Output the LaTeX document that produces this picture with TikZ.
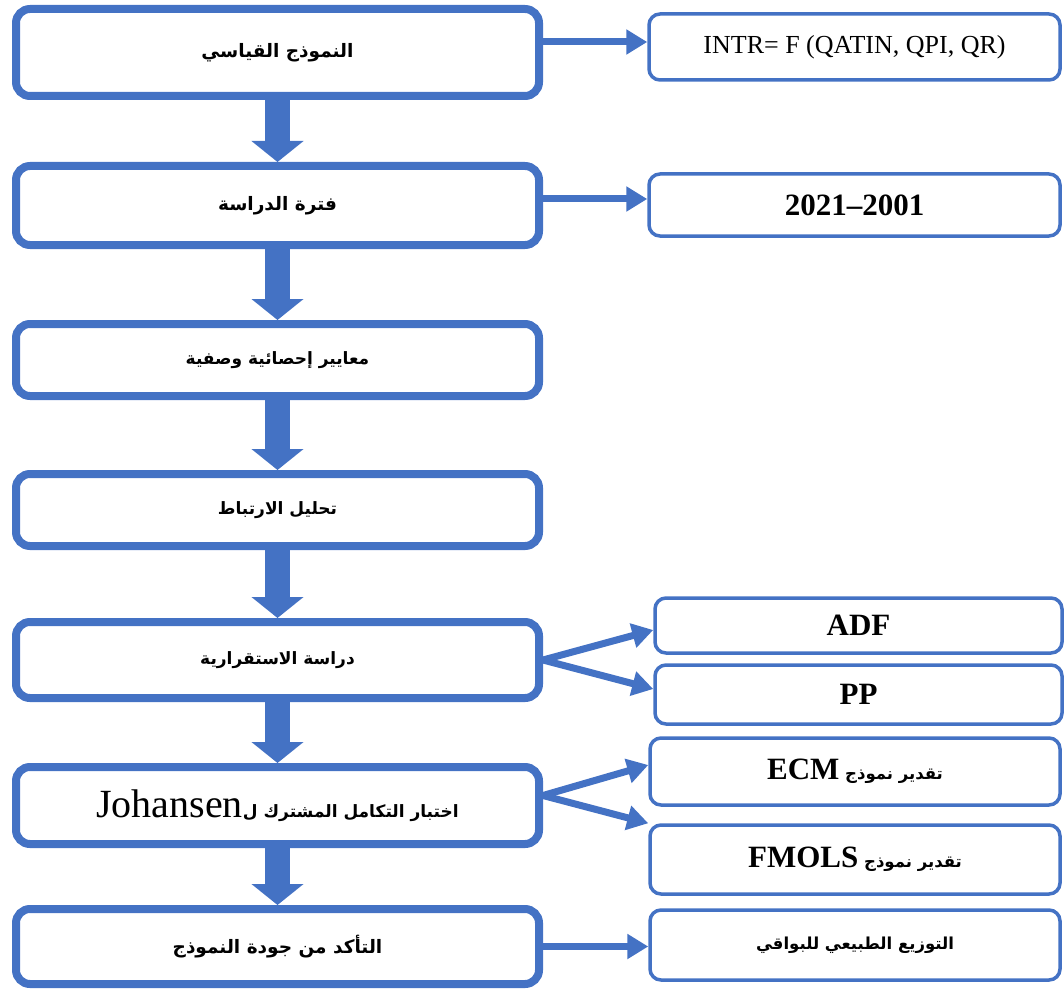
\documentclass[tikz,border=0pt]{standalone}
\usepackage{fontspec}
\setmainfont{Liberation Serif}
\newfontfamily\arabicfont[Script=Arabic]{DejaVu Sans}
\TeXXeTstate=1
\usetikzlibrary{arrows.meta}
\definecolor{boxblue}{HTML}{4472C4}

\begin{document}
\begin{tikzpicture}[x=1pt, y=-1pt,
  mainbox/.style={draw=boxblue, line width=8pt, rounded corners=14pt, minimum width=523pt, inner sep=0pt, align=center},
  sidebox/.style={draw=boxblue, line width=3.5pt, rounded corners=11pt, inner sep=0pt, align=center},
  down/.style={draw=boxblue, line width=25pt, -{Triangle[width=51pt,length=21pt]}},
  side/.style={draw=boxblue, line width=7pt, -{Triangle[width=24pt,length=21pt]}},
  arbig/.style={font=\arabicfont\bfseries\fontsize{18.5}{22}\selectfont},
  ar/.style={font=\arabicfont\bfseries\fontsize{17}{21}\selectfont},
  arside/.style={font=\arabicfont\bfseries\fontsize{16.5}{20}\selectfont},
  lat/.style={font=\fontsize{26}{30}\selectfont},
  latbold/.style={font=\bfseries\fontsize{31}{35}\selectfont}]
\useasboundingbox (0,0) rectangle (1064,992);
\node[mainbox, arbig, minimum height=87pt] (model) at (277.5,52.5) {\beginR النموذج القياسي\endR};
\node[mainbox, arbig, minimum height=79pt] (period) at (277.5,205.5) {\beginR فترة الدراسة\endR};
\node[mainbox, ar, minimum height=72pt] (desc) at (277.5,360) {\beginR معايير إحصائية وصفية\endR};
\node[mainbox, ar, minimum height=72pt] (corr) at (277.5,510) {\beginR تحليل الارتباط\endR};
\node[mainbox, ar, minimum height=76pt] (stat) at (277.5,660) {\beginR دراسة الاستقرارية\endR};
\node[mainbox, ar, minimum height=77pt] (coint) at (277.5,805.5) {\beginR اختبار التكامل المشترك ل\beginL{\rmfamily\mdseries\fontsize{40}{44}\selectfont Johansen}\endL\endR};
\node[mainbox, arbig, minimum height=75pt] (check) at (277.5,946.5) {\beginR التأكد من جودة النموذج\endR};
\node[sidebox, lat, minimum width=411pt, minimum height=66pt] (eq) at (854.5,47) {INTR= F (QATIN, QPI, QR)};
\node[sidebox, latbold, minimum width=411pt, minimum height=62pt] (years) at (854.5,205) {2021--2001};
\node[sidebox, latbold, minimum width=407pt, minimum height=55pt] (adf) at (858.5,625.5) {ADF};
\node[sidebox, latbold, minimum width=407pt, minimum height=59pt] (pp) at (858.5,694.5) {PP};
\node[sidebox, arside, minimum width=410pt, minimum height=67pt] (ecm) at (855,771.5) {\beginR تقدير نموذج \beginL{\rmfamily\fontsize{31}{35}\selectfont ECM}\endL\endR};
\node[sidebox, arside, minimum width=410pt, minimum height=69pt] (fmols) at (855,859.5) {\beginR تقدير نموذج \beginL{\rmfamily\fontsize{31}{35}\selectfont FMOLS}\endL\endR};
\node[sidebox, arside, minimum width=410pt, minimum height=70pt] (resid) at (855,945) {\beginR التوزيع الطبيعي للبواقي\endR};
\draw[down] (model) -- (period);
\draw[down] (period) -- (desc);
\draw[down] (desc) -- (corr);
\draw[down] (corr) -- (stat);
\draw[down] (stat) -- (coint);
\draw[down, shorten <=-8pt] (coint) -- (check);
\draw[side] ([yshift=10.5pt]model.east) -- ([yshift=10.5pt]model.east -| eq.west);
\draw[side] ([yshift=6.5pt]period.east) -- ([yshift=6.5pt]period.east -| years.west);
\draw[side] (stat.east) -- ([yshift=-4.5pt]adf.west);
\draw[side] (stat.east) -- ([yshift=5.5pt]pp.west);
\draw[side] ([yshift=10pt]coint.east) -- ([yshift=6.5pt]ecm.west);
\draw[side] ([yshift=10pt]coint.east) -- (fmols.north west);
\draw[side] (check.east) -- (check.east -| resid.west);
\end{tikzpicture}
\end{document}
